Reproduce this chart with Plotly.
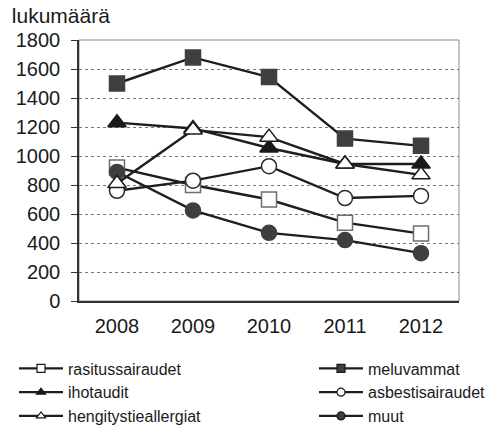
import plotly.graph_objects as go

years = ["2008", "2009", "2010", "2011", "2012"]
rasitussairaudet = [920, 800, 700, 540, 465]
meluvammat = [1500, 1680, 1545, 1120, 1070]
ihotaudit = [1230, 1190, 1055, 945, 945]
asbestisairaudet = [760, 830, 930, 710, 725]
hengitystieallergiat = [810, 1180, 1130, 945, 870]
muut = [890, 625, 470, 420, 330]
y_ticks = [0, 200, 400, 600, 800, 1000, 1200, 1400, 1600, 1800]

LINE = "#1e1e1e"
DARK = "#3f3f3f"
GREY = "#6e6e6e"

# (name, values, symbol, fill, outline, legend column)
series = [
    ("rasitussairaudet", rasitussairaudet, "square", "white", GREY, "legend"),
    ("ihotaudit", ihotaudit, "triangle-up", "#1a1a1a", "#1a1a1a", "legend"),
    ("hengitystieallergiat", hengitystieallergiat, "triangle-up", "white", "#1a1a1a", "legend"),
    ("meluvammat", meluvammat, "square", DARK, DARK, "legend2"),
    ("asbestisairaudet", asbestisairaudet, "circle", "white", "#2a2a2a", "legend2"),
    ("muut", muut, "circle", DARK, DARK, "legend2"),
]

fig = go.Figure()

# draw order: triangles on top like the reference
draw_order = [3, 0, 4, 5, 1, 2]
for i in draw_order:
    name, vals, sym, fill, edge, _ = series[i]
    size = 16 if "triangle" in sym else 15
    fig.add_trace(go.Scatter(
        x=years, y=vals, mode="lines+markers", name=name, showlegend=False,
        line=dict(color=LINE, width=2.4),
        marker=dict(symbol=sym, size=size, color=fill, line=dict(color=edge, width=1.5)),
    ))

# legend-only entries with small markers
for name, vals, sym, fill, edge, leg in series:
    fig.add_trace(go.Scatter(
        x=[None], y=[None], mode="lines+markers", name=name, legend=leg,
        line=dict(color=LINE, width=2.2),
        marker=dict(symbol=sym, size=8, color=fill, line=dict(color="#1a1a1a", width=1.2)),
    ))

fig.add_shape(type="rect", xref="paper", yref="paper", x0=0, x1=1, y0=0, y1=1,
              line=dict(color="#8a8a8a", width=1), layer="below")

legend_style = dict(
    orientation="v", xref="container", yref="container",
    xanchor="left", yanchor="top", y=0.175,
    font=dict(size=16), tracegroupgap=0, itemwidth=44,
    bgcolor="rgba(0,0,0,0)",
)

fig.update_layout(
    width=494, height=426,
    margin=dict(l=79, r=35, t=40, b=125, autoexpand=False),
    paper_bgcolor="white", plot_bgcolor="white",
    font=dict(family="Liberation Sans, Arial, sans-serif", color="#1a1a1a", size=20),
    title=dict(text="lukumäärä", x=0.024, xanchor="left", y=0.963, yanchor="middle",
               font=dict(size=21)),
    xaxis=dict(
        type="category", range=[-0.5, 4.5], showgrid=False, showline=True,
        linecolor="#333333", linewidth=1.5, ticks="", ticklabelstandoff=6,
        tickfont=dict(size=20), fixedrange=True,
    ),
    yaxis=dict(
        range=[0, 1800], tickvals=y_ticks, showgrid=True, gridcolor="#777777",
        griddash="dot", gridwidth=1, showline=True, linecolor="#333333",
        linewidth=1.5, zeroline=False, ticks="outside", ticklen=6, tickwidth=1,
        tickcolor="#333333", ticklabelstandoff=7,
        tickfont=dict(size=20), fixedrange=True,
    ),
    legend=dict(legend_style, x=14 / 494),
    legend2=dict(legend_style, x=314 / 494),
)

fig.write_html("out.html", config={"displayModeBar": False},
               post_script="document.body.style.margin='0';")
